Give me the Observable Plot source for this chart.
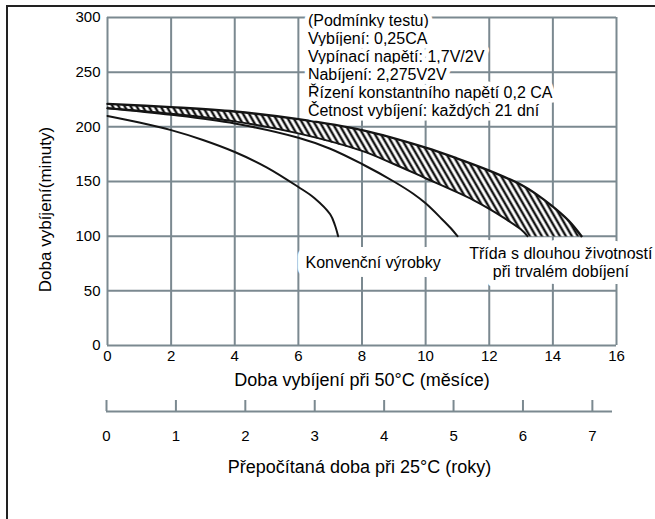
<!DOCTYPE html>
<html><head><meta charset="utf-8">
<script src="https://cdn.jsdelivr.net/npm/d3@7"></script>
<script src="https://cdn.jsdelivr.net/npm/@observablehq/plot@0.6"></script>
<style>
html,body{margin:0;padding:0;background:#fff;}
#wrap{position:relative;width:655px;height:519px;overflow:hidden;font-family:"Liberation Sans",Arial,sans-serif;}
#frame{position:absolute;left:6px;top:5px;width:700px;height:600px;border-left:2px solid #222;border-top:2px solid #222;z-index:5;pointer-events:none;}
#main{position:absolute;left:0;top:0;}
#second{position:absolute;left:0;top:391px;}
</style></head><body>
<div id="wrap"><div id="main"></div><div id="second"></div><div id="frame"></div></div>
<script>
// ---- data ----
const monthTicks = [0, 2, 4, 6, 8, 10, 12, 14, 16];
const minuteTicks = [0, 50, 100, 150, 200, 250, 300];
const yearTicks = [0, 1, 2, 3, 4, 5, 6, 7];

const conventionalMonths  = [0, 1, 2, 3, 4, 5, 6, 6.5, 7, 7.15, 7.25];
const conventionalMinutes = [210, 204, 197, 188, 177, 163, 145, 135, 120, 110, 100];

const secondMonths  = [0, 2, 4, 6, 7, 8, 9, 9.6, 10, 10.5, 10.8, 11];
const secondMinutes = [217, 211, 203, 190, 180, 166, 150, 139, 130, 116, 107, 100];

const bandUpperMonths  = [0, 2, 4, 6, 8, 10, 11, 12, 13, 13.5, 14, 14.5, 14.9];
const bandUpperMinutes = [221, 218, 214, 207, 197, 181, 171, 160, 147, 138, 127, 114, 100];

const bandLowerMonths  = [0, 2, 4, 6, 8, 9, 10, 11, 11.5, 12, 12.5, 13, 13.2];
const bandLowerMinutes = [217, 212, 205, 194, 178, 166, 153, 140, 133, 125, 116, 106, 100];

const conditionLines = [
  "(Podmínky testu)",
  "Vybíjení: 0,25CA",
  "Vypínací napětí: 1,7V/2V",
  "Nabíjení: 2,275V2V",
  "Řízení konstantního napětí 0,2 CA",
  "Četnost vybíjení: každých 21 dní"
];
const labelConventional = "Konvenční výrobky";
const labelLongLife = ["Třída s dlouhou životností", "při trvalém dobíjení"];
const xTitle = "Doba vybíjení při 50°C (měsíce)";
const yTitle = "Doba vybíjení(minuty)";
const x2Title = "Přepočítaná doba při 25°C (roky)";

// ---- build tables ----
const zip = (xs, ys) => xs.map((x, i) => ({x, y: ys[i]}));
const conventional = zip(conventionalMonths, conventionalMinutes);
const secondCurve = zip(secondMonths, secondMinutes);
const upper = zip(bandUpperMonths, bandUpperMinutes);
const lower = zip(bandLowerMonths, bandLowerMinutes);
const bandPolygon = upper.concat(lower.slice().reverse());

const FONT = '"Liberation Sans", Arial, sans-serif';
const GRID = "#7b8990";
const INK = "#141414";

const main = Plot.plot({
  width: 655, height: 400,
  marginLeft: 107, marginRight: 39, marginTop: 17, marginBottom: 55,
  style: {fontFamily: FONT, fontSize: "15px", color: "#000", background: "none", overflow: "visible"},
  x: {domain: [0, 16]},
  y: {domain: [0, 300]},
  marks: [
    Plot.gridX(monthTicks, {stroke: GRID, strokeOpacity: 1, strokeWidth: 2}),
    Plot.gridY(minuteTicks, {stroke: GRID, strokeOpacity: 1, strokeWidth: 2}),
    Plot.axisX(monthTicks, {tickSize: 0, tickPadding: 5, label: null, fontSize: 15}),
    Plot.axisY(minuteTicks, {tickSize: 0, tickPadding: 7, label: null, fontSize: 15}),
    Plot.line(bandPolygon, {x: "x", y: "y", fill: "url(#hatch)", stroke: "none", curve: "linear"}),
    Plot.line(upper, {x: "x", y: "y", stroke: INK, strokeWidth: 2.4, curve: "catmull-rom"}),
    Plot.line(lower, {x: "x", y: "y", stroke: INK, strokeWidth: 2, curve: "catmull-rom"}),
    Plot.line(secondCurve, {x: "x", y: "y", stroke: INK, strokeWidth: 2, curve: "catmull-rom"}),
    Plot.line(conventional, {x: "x", y: "y", stroke: INK, strokeWidth: 2, curve: "catmull-rom"}),
    Plot.text([conditionLines.join("\n")], {x: 6.3, y: 300, dy: -4, text: d => d, textAnchor: "start", lineAnchor: "top", lineHeight: 1.12, fontSize: 16, fill: "#000", stroke: "white", strokeWidth: 9, strokeLinejoin: "round"}),
    Plot.text([labelConventional], {x: 8.35, y: 76, text: d => d, fontSize: 16, fill: "#000", stroke: "white", strokeWidth: 18, strokeLinejoin: "round"}),
    Plot.text([labelLongLife.join("\n")], {x: 14.25, y: 76, text: d => d, fontSize: 16, lineHeight: 1.15, fill: "#000", stroke: "white", strokeWidth: 14, strokeLinejoin: "round"}),
    Plot.text([yTitle], {frameAnchor: "left", textAnchor: "middle", rotate: -90, dx: -62, dy: 28, text: d => d, fontSize: 17, fill: "#000"}),
    Plot.text([xTitle], {frameAnchor: "bottom", dy: 40, text: d => d, fontSize: 18, fill: "#000"})
  ]
});

// hatch pattern
const defs = d3.select(main).insert("defs", ":first-child");
const pat = defs.append("pattern").attr("id", "hatch").attr("patternUnits", "userSpaceOnUse")
  .attr("width", 5.2).attr("height", 6).attr("patternTransform", "rotate(-30)");
pat.append("rect").attr("width", 5.2).attr("height", 6).attr("fill", "white");
pat.append("line").attr("x1", 2.6).attr("y1", -1).attr("x2", 2.6).attr("y2", 7).attr("stroke", INK).attr("stroke-width", 2.4);
document.getElementById("main").appendChild(main);

const second = Plot.plot({
  width: 655, height: 128,
  marginLeft: 106, marginRight: 43, marginTop: 0, marginBottom: 0,
  style: {fontFamily: FONT, fontSize: "15px", color: "#000", background: "none", overflow: "visible"},
  x: {domain: [0, 7.29], axis: null},
  y: {domain: [0, 1], range: [20, 9], axis: null},
  marks: [
    Plot.ruleY([0], {stroke: GRID, strokeWidth: 2}),
    Plot.ruleX(yearTicks, {x: d => d, y1: 0, y2: 1, stroke: GRID, strokeWidth: 2}),
    Plot.text(yearTicks, {x: d => d, y: 0, dy: 25, text: d => String(d), fontSize: 15, fill: "#000"}),
    Plot.text([x2Title], {frameAnchor: "top", dy: 69, text: d => d, fontSize: 18, fill: "#000"})
  ]
});
document.getElementById("second").appendChild(second);
</script>
</body></html>
